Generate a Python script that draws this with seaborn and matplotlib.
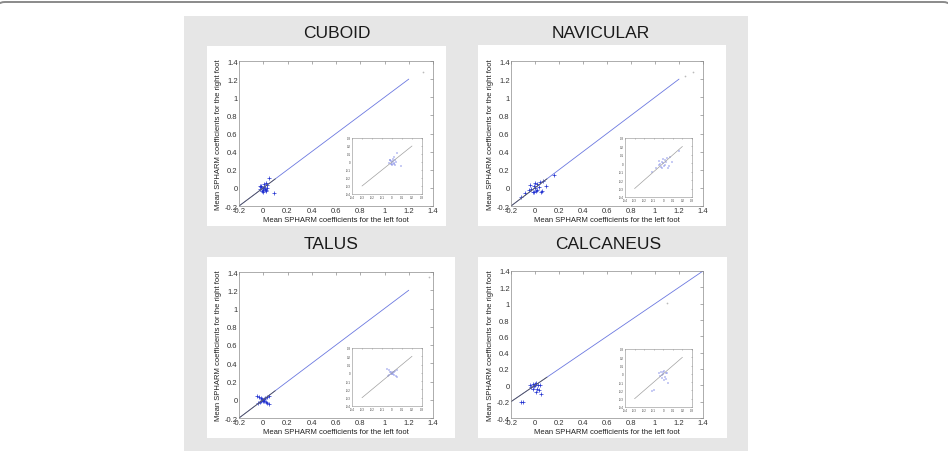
import numpy as np
import pandas as pd
import matplotlib.pyplot as plt
import seaborn as sns
from matplotlib.patches import Rectangle, FancyBboxPatch

sns.set_theme(style='white')
plt.rcParams['font.family'] = ['Liberation Sans', 'DejaVu Sans']

# ---------------------------------------------------------------------------
# Data
# ---------------------------------------------------------------------------
titles = ['CUBOID', 'NAVICULAR', 'TALUS', 'CALCANEUS']

cuboid_x = [-0.03, -0.02, -0.01, 0.0, 0.01, 0.02, 0.03, -0.015, 0.015, 0.005,
            0.025, 0.05, 0.088, -0.005, 0.02, 0.035, -0.025, 0.0]
cuboid_y = [-0.01, 0.02, -0.03, 0.0, 0.01, -0.02, 0.03, 0.015, -0.01, 0.04,
            -0.035, 0.11, -0.054, -0.02, 0.057, 0.0, 0.025, -0.04]

navicular_x = [-0.08, -0.05, -0.04, -0.02, -0.01, 0.0, 0.01, 0.02, 0.03, 0.05,
               0.07, 0.09, -0.03, 0.0, 0.015, -0.01, 0.04, 0.06, 0.16, -0.12]
navicular_y = [-0.06, -0.02, 0.03, -0.04, 0.02, 0.0, -0.03, 0.04, 0.01, -0.05,
               0.08, 0.02, -0.01, 0.05, -0.02, -0.05, 0.06, -0.03, 0.14, -0.1]

talus_x = [-0.05, -0.035, -0.02, -0.01, 0.0, 0.01, 0.02, 0.035, 0.05,
           -0.045, -0.03, -0.015, 0.015, 0.03, 0.045, 0.0, 0.005]
talus_y = [0.045, 0.03, 0.015, 0.005, 0.0, -0.01, -0.02, -0.035, -0.05,
           -0.04, -0.025, -0.01, 0.015, 0.025, 0.04, -0.015, 0.01]

calcaneus_x = [-0.04, -0.03, -0.02, -0.01, 0.0, 0.01, 0.02, 0.03, 0.04, 0.05,
               -0.015, 0.005, 0.025, 0.0, -0.12, -0.1]
calcaneus_y = [0.01, -0.02, 0.02, -0.01, 0.0, 0.03, -0.04, -0.06, 0.01, -0.11,
               -0.05, -0.08, 0.005, 0.02, -0.21, -0.2]

far_x = [[1.32], [1.25, 1.32], [1.37], [1.1]]
far_y = [[1.28], [1.24, 1.28], [1.35], [1.01]]

diag_end = [1.2, 1.2, 1.2, 1.4]
y_min = [-0.2, -0.2, -0.2, -0.4]
main_ticks = [-0.2, 0, 0.2, 0.4, 0.6, 0.8, 1, 1.2, 1.4]
ticks_calc_y = [-0.4, -0.2, 0, 0.2, 0.4, 0.6, 0.8, 1, 1.2, 1.4]
inset_ticks = [-0.4, -0.3, -0.2, -0.1, 0, 0.1, 0.2, 0.3]

clusters = [(cuboid_x, cuboid_y), (navicular_x, navicular_y),
            (talus_x, talus_y), (calcaneus_x, calcaneus_y)]

# ---------------------------------------------------------------------------
# Layout in pixels (figure 948 x 452)
# ---------------------------------------------------------------------------
W, H = 948, 452
fig = plt.figure(figsize=(W / 100, H / 100), dpi=100)

bg = fig.add_axes([0, 0, 1, 1], zorder=-10)
bg.set_xlim(0, W)
bg.set_ylim(H, 0)
bg.axis('off')
bg.add_patch(FancyBboxPatch((-5, 3), W + 10, H + 40,
                            boxstyle='round,pad=0,rounding_size=10',
                            fc='white', ec='#8a8a8a', lw=1.4))
bg.add_patch(Rectangle((184, 17), 564, H - 17, fc='#e6e6e6', ec='none'))

white_panels = [(207, 47, 446, 227), (478, 46, 726, 227),
                (207, 258, 455, 439), (478, 258, 727, 439)]
for x0, y0, x1, y1 in white_panels:
    bg.add_patch(Rectangle((x0, y0), x1 - x0, y1 - y0, fc='white', ec='none'))

title_pos = [(337, 34), (601, 34), (331, 245), (608, 245)]
for t, (tx, ty) in zip(titles, title_pos):
    bg.text(tx, ty, t, ha='center', va='center', fontsize=12.5, color='#1a1a1a')

main_boxes = [(239, 62, 433, 207), (511, 62, 703, 207),
              (239, 273, 433, 419), (511, 272, 703, 419)]
inset_boxes = [(352, 139, 422, 195), (625, 139, 692, 198),
               (352, 349, 422, 407), (625, 350, 692, 408)]


def px_axes(box, **kw):
    x0, y0, x1, y1 = box
    return fig.add_axes([x0 / W, 1 - y1 / H, (x1 - x0) / W, (y1 - y0) / H], **kw)


def matlab_style(ax, size, lw=0.5, length=2):
    ax.set_facecolor('white')
    for s in ax.spines.values():
        s.set_color('#8c8c8c')
        s.set_linewidth(lw)
    ax.tick_params(direction='in', length=length, width=lw, labelsize=size,
                   top=True, right=True, pad=1, colors='#8c8c8c',
                   labelcolor='#333333')
    ax.grid(False)


for i in range(4):
    ax = px_axes(main_boxes[i])
    cx, cy = clusters[i]
    d = diag_end[i]
    line_df = pd.DataFrame({'x': [-0.2, d], 'y': [-0.2, d]})
    sns.lineplot(data=line_df, x='x', y='y', ax=ax, color='#6b78e0', lw=0.6)
    short_df = pd.DataFrame({'x': [-0.2, 0.1], 'y': [-0.2, 0.1]})
    sns.lineplot(data=short_df, x='x', y='y', ax=ax, color='#555555', lw=0.6)
    pts = pd.DataFrame({'x': cx, 'y': cy})
    sns.scatterplot(data=pts, x='x', y='y', ax=ax, marker='+', color='#1f2fd0',
                    s=6, linewidth=0.5)
    far = pd.DataFrame({'x': far_x[i], 'y': far_y[i]})
    sns.scatterplot(data=far, x='x', y='y', ax=ax, marker='.', color='#bbbbbb',
                    s=6, linewidth=0)
    ax.set_xlim(-0.2, 1.4)
    ax.set_ylim(y_min[i], 1.4)
    ax.set_xticks(main_ticks)
    ax.set_xticklabels([f'{v:g}' for v in main_ticks])
    yt = ticks_calc_y if i == 3 else main_ticks
    ax.set_yticks(yt)
    ax.set_yticklabels([f'{v:g}' for v in yt])
    ax.set_xlabel('Mean SPHARM coefficients for the left foot', fontsize=5.5,
                  labelpad=1.5, color='#222222')
    ax.set_ylabel('Mean SPHARM coefficients for the right foot', fontsize=5.5,
                  labelpad=2, color='#222222')
    matlab_style(ax, 5.5)

    # inset zoom on the cluster
    ins = px_axes(inset_boxes[i])
    in_df = pd.DataFrame({'x': [-0.3, 0.2], 'y': [-0.3, 0.2]})
    sns.lineplot(data=in_df, x='x', y='y', ax=ins, color='#a0a0a0', lw=0.5)
    sns.scatterplot(data=pts, x='x', y='y', ax=ins, marker='+', color='#7c86e6',
                    s=3, linewidth=0.3)
    ins.set_xlim(-0.4, 0.3)
    ins.set_ylim(-0.4, 0.3)
    ins.set_xticks(inset_ticks)
    ins.set_yticks(inset_ticks)
    ins.set_xticklabels([f'{v:g}' for v in inset_ticks])
    ins.set_yticklabels([f'{v:g}' for v in inset_ticks])
    ins.set_xlabel('')
    ins.set_ylabel('')
    matlab_style(ins, 2.0, lw=0.4, length=1)

fig.savefig('out.png', dpi=100)
